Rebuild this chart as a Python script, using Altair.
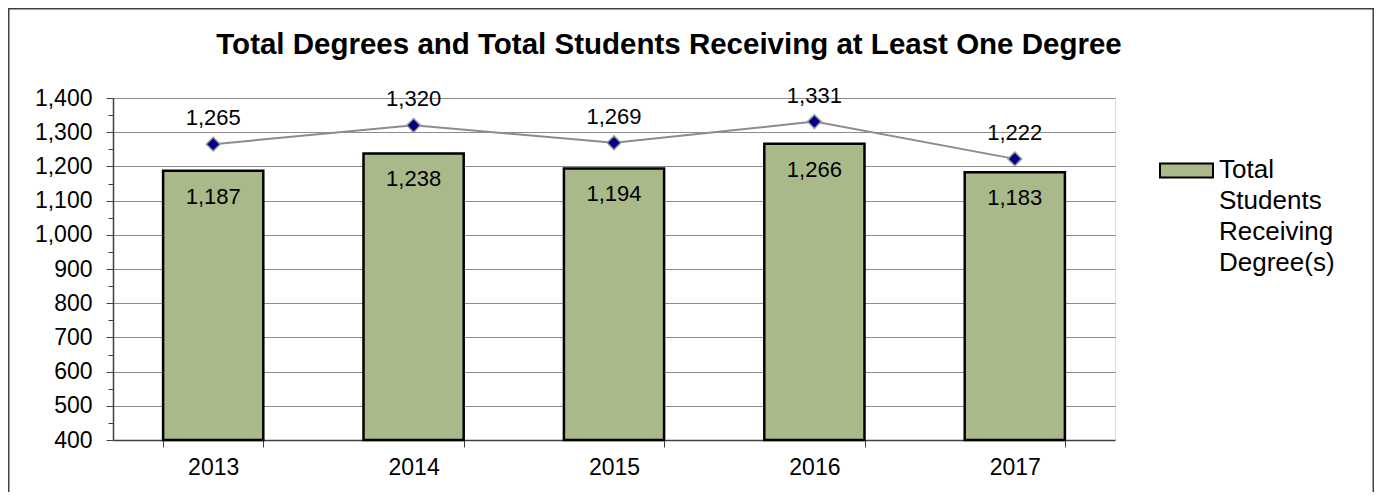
import altair as alt
import pandas as pd

years = ["2013", "2014", "2015", "2016", "2017"]
students = [1187, 1238, 1194, 1266, 1183]
degrees = [1265, 1320, 1269, 1331, 1222]
series_name = "Total Students Receiving Degree(s)"
title_text = "Total Degrees and Total Students Receiving at Least One Degree"
y_ticks = list(range(400, 1401, 50))

df = pd.DataFrame({"year": years, "students": students, "degrees": degrees,
                   "series": [series_name] * len(years)})

FONT = "Liberation Sans"

x_axis = alt.Axis(labelAngle=0, labelFontSize=23, labelFont=FONT, labelColor="black",
                  tickBand="extent", tickSize=7, tickColor="#404040",
                  domainColor="#404040", domainWidth=1.5, labelPadding=9, grid=False)
x_scale = alt.Scale(paddingInner=0.5, paddingOuter=0.25)

y_scale = alt.Scale(domain=[400, 1400], nice=False, zero=False)
y_axis = alt.Axis(values=y_ticks, format=",d", title=None,
                  labelExpr="datum.value % 100 == 0 ? format(datum.value, ',') : ''",
                  labelFontSize=23, labelFont=FONT, labelColor="black", labelPadding=14,
                  tickSize=alt.expr("datum.value % 100 == 0 ? 7 : 5"),
                  tickColor="#404040", domainColor="#404040", domainWidth=1.5,
                  grid=True, gridColor="#8c8c8c", gridWidth=1.2,
                  gridOpacity=alt.expr("datum.value % 100 == 0 && datum.value > 400 ? 1 : 0"))


def X():
    return alt.X("year:N", title=None, scale=x_scale, axis=x_axis)


def Y(field):
    return alt.Y(field, title=None, scale=y_scale, axis=y_axis)


base = alt.Chart(df)

bars = base.mark_bar(stroke="black", strokeWidth=2.5).encode(
    x=X(),
    y=Y("students:Q"),
    y2=alt.datum(400),
    color=alt.Color("series:N", scale=alt.Scale(range=["#A9B98A"]),
                    legend=alt.Legend(title=None, orient="none", legendX=1046, legendY=31,
                                      labelFont=FONT, labelFontSize=26, labelColor="black",
                                      labelExpr="split(datum.label, ' ')",
                                      labelBaseline="top", labelLimit=400, labelOffset=5,
                                      symbolType="M-1,0.264L1,0.264L1,0.792L-1,0.792Z",
                                      symbolSize=2809, symbolStrokeColor="black",
                                      symbolStrokeWidth=2, padding=0)),
)

bar_labels = base.mark_text(font=FONT, fontSize=22, color="black", baseline="middle", dy=26).encode(
    x=X(), y=Y("students:Q"), text=alt.Text("students:Q", format=","))

line = base.mark_line(color="#8c8c8c", strokeWidth=2).encode(
    x=X(), y=Y("degrees:Q"))

points = base.mark_point(shape="diamond", filled=True, fill="#000080", stroke="#9a9a9a",
                         strokeWidth=1.5, size=190, opacity=1).encode(
    x=X(), y=Y("degrees:Q"))

line_labels = base.mark_text(font=FONT, fontSize=22, color="black", baseline="middle", dy=-26).encode(
    x=X(), y=Y("degrees:Q"), text=alt.Text("degrees:Q", format=","))

one = pd.DataFrame({"t": [title_text]})
frame = alt.Chart(one).mark_rect(filled=False, stroke="#404040", strokeWidth=1.5,
                                 strokeOpacity=1, fillOpacity=0).encode(
    x=alt.value(-104.25), x2=alt.value(1260.25), y=alt.value(-89.25), y2=alt.value(430))

title = alt.Chart(one).mark_text(font=FONT, fontSize=29.5, fontWeight="bold", color="black",
                                 baseline="alphabetic", align="center").encode(
    x=alt.value(556), y=alt.value(-44), text="t:N")

chart = alt.layer(frame, title, bars, bar_labels, line, points, line_labels).properties(
    width=1002, height=342,
    autosize=alt.AutoSizeParams(type="none"),
    padding={"left": 105, "top": 90, "right": 259, "bottom": 52},
).configure_view(stroke="#8c8c8c", strokeWidth=2).configure(
    style={"guide-label": {"lineHeight": 31}})

chart.save("out.html", embed_options={"renderer": "svg", "actions": False})
